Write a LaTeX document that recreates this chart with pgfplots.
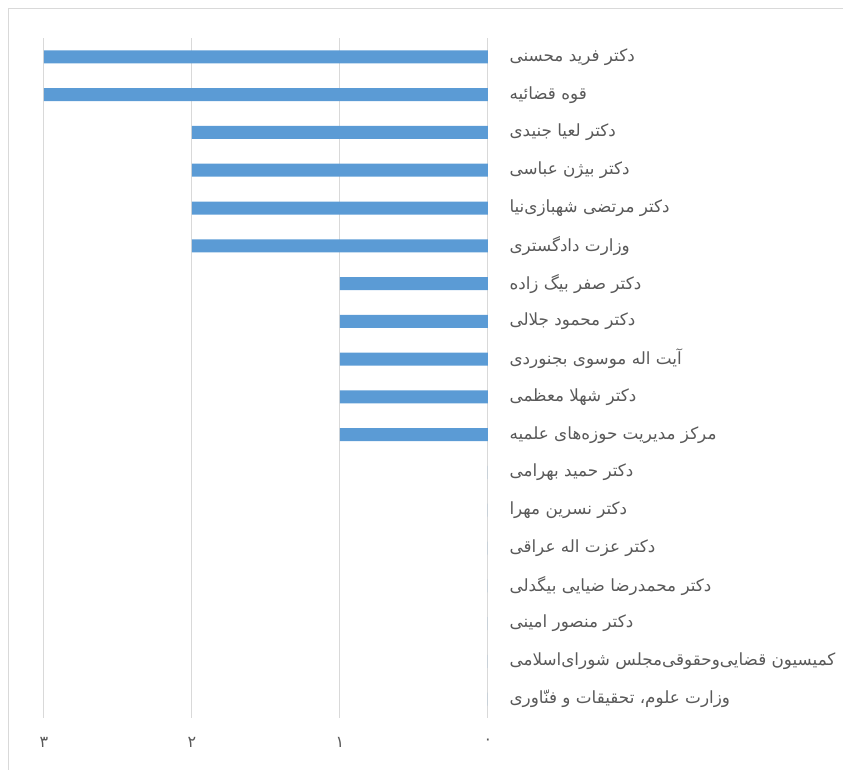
\documentclass[border=0pt]{standalone}
\usepackage{fontspec}
\usepackage{pgfplots}
\pgfplotsset{compat=1.18}
\TeXXeTstate=1
\newfontfamily\arabicfont[Script=Arabic]{DejaVu Sans}
\definecolor{barblue}{HTML}{5B9BD5}
\definecolor{txtgray}{HTML}{595959}
\definecolor{gridgray}{HTML}{D9D9D9}
\begin{document}
\begin{tikzpicture}[x=1pt,y=1pt]
\begin{axis}[
    scale only axis,
    width=444pt, height=680pt,
    x dir=reverse, y dir=reverse,
    xmin=0, xmax=3,
    ymin=-0.5, ymax=17.5,
    xtick={0,1,2,3},
    xticklabels={۰,۱,۲,۳},
    ytick={0,...,17},
    yticklabel pos=right,
    yticklabels={
        \beginR دکتر فرید محسنی\endR,
        \beginR قوه قضائیه\endR,
        \beginR دکتر لعیا جنیدی\endR,
        \beginR دکتر بیژن عباسی\endR,
        \beginR دکتر مرتضی شهبازی‌نیا\endR,
        \beginR وزارت دادگستری\endR,
        \beginR دکتر صفر بیگ زاده\endR,
        \beginR دکتر محمود جلالی\endR,
        \beginR آیت اله موسوی بجنوردی\endR,
        \beginR دکتر شهلا معظمی\endR,
        \beginR مرکز مدیریت حوزه‌های علمیه\endR,
        \beginR دکتر حمید بهرامی\endR,
        \beginR دکتر نسرین مهرا\endR,
        \beginR دکتر عزت اله عراقی\endR,
        \beginR دکتر محمدرضا ضیایی بیگدلی\endR,
        \beginR دکتر منصور امینی\endR,
        \beginR کمیسیون قضایی‌وحقوقی‌مجلس شورای‌اسلامی\endR,
        \beginR وزارت علوم، تحقیقات و فنّاوری\endR},
    xmajorgrids,
    major grid style={gridgray, line width=1pt},
    axis line style={draw=none},
    major tick length=0pt,
    xticklabel style={font=\arabicfont\fontsize{16}{18}\selectfont, text=txtgray, anchor=center, yshift=-24pt},
    yticklabel style={font=\arabicfont\fontsize{16.8}{19}\selectfont, text=txtgray, anchor=west, xshift=18pt},
]
\addplot[xbar, bar width=13pt, fill=barblue, draw=none] coordinates {
    (3,0) (3,1) (2,2) (2,3) (2,4) (2,5) (1,6) (1,7) (1,8) (1,9) (1,10)
    (0,11) (0,12) (0,13) (0,14) (0,15) (0,16) (0,17)
};
\coordinate (BL) at (axis cs:3,17.5);
\end{axis}
\pgfresetboundingbox
% chart frame, partly cut off like the reference
\draw[gridgray, line width=1pt] ([shift={(-35.5,-80)}]BL) -- ([shift={(-35.5,709.5)}]BL) -- ([shift={(830,709.5)}]BL);
\pgfresetboundingbox
\useasboundingbox ([shift={(-44,-51)}]BL) rectangle ([shift={(799,718)}]BL);
\end{tikzpicture}
\end{document}
